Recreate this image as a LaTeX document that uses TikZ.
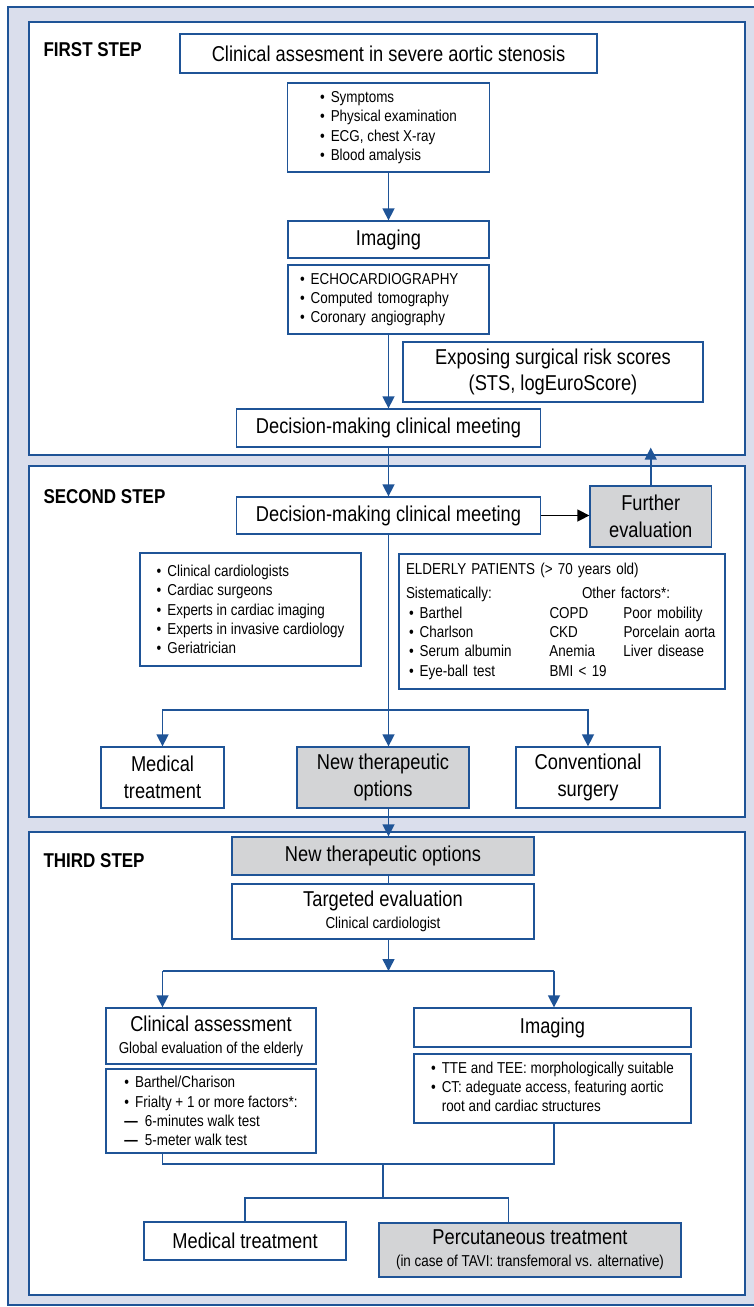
\documentclass[tikz,border=0pt]{standalone}
\usepackage{fontspec}
\setmainfont[FakeStretch=0.85]{Liberation Sans}
\usetikzlibrary{arrows.meta}

\definecolor{frameblue}{HTML}{1F5497}
\definecolor{paneltint}{HTML}{DADEEC}
\definecolor{boxgrey}{HTML}{D3D4D6}

\newcommand{\mainsize}{\fontsize{21.5}{26.5}\selectfont}
\newcommand{\listsize}{\fontsize{15.8}{19.3}\selectfont}
\newcommand{\itm}{\textbullet\hspace{6pt}}
\newcommand{\dsh}{{\bfseries —}\hspace{7pt}}

\begin{document}
\begin{tikzpicture}[x=1pt,y=-1pt,
  box/.style={draw=frameblue,line width=1.3pt,fill=white,inner sep=0pt,
    font=\mainsize,align=center},
  greybox/.style={box,fill=boxgrey},
  lst/.style={box,font=\listsize,align=left},
  heading/.style={anchor=west,font=\fontsize{20}{24}\selectfont\bfseries},
  link/.style={draw=frameblue,line width=1.5pt,
    -{Triangle[width=12pt,length=12pt]}},
  wire/.style={draw=frameblue,line width=1.5pt},
  panel/.style={draw=frameblue,line width=1.6pt,fill=white}]
  \useasboundingbox (0,0) rectangle (754,1307);

  % background and the three step panels
  \draw[frameblue,line width=1.2pt,fill=paneltint] (8,7) rectangle (780,1305);
  \draw[panel] (29,22) rectangle (745,455);
  \draw[panel] (29,466) rectangle (745,817);
  \draw[panel] (29,832) rectangle (745,1295);

  % first step
  \node[heading] (h1) at (40,50) {FIRST STEP};
  \node[box,minimum width=417pt,minimum height=39pt] (clin) at (388.5,53.5)
    {Clinical assesment in severe aortic stenosis};
  \node[lst,minimum width=201.5pt,minimum height=89pt] (sympt) at (388.5,127.5)
    {\itm Symptoms\\ \itm Physical examination\\ \itm ECG, chest X-ray\\
     \itm Blood amalysis};
  \node[box,minimum width=201pt,minimum height=37pt] (imag1) at (388.5,239.5)
    {Imaging};
  \node[lst,minimum width=201pt,minimum height=69pt,text width=177pt,
    inner xsep=12pt] (imlist) at (388.5,299.5)
    {\itm ECHOCARDIOGRAPHY\\ \itm Computed tomography\\ \itm Coronary angiography};
  \node[box,minimum width=300pt,minimum height=60pt] (expo) at (553,372)
    {Exposing surgical risk scores\\(STS, logEuroScore)};
  \node[box,minimum width=304pt,minimum height=38pt] (dec1) at (388.5,428)
    {Decision-making clinical meeting};

  \draw[link] (sympt) -- (imag1);
  \draw[link] (imlist) -- (dec1);

  % second step
  \node[heading] (h2) at (40,497) {SECOND STEP};
  \node[box,minimum width=304pt,minimum height=37pt] (dec2) at (388.5,515.5)
    {Decision-making clinical meeting};
  \node[greybox,minimum width=121.5pt,minimum height=61pt] (further)
    at (650.75,516.5) {Further\\evaluation};
  \node[lst,minimum width=221pt,minimum height=113pt] (team) at (250.5,609.5)
    {\itm Clinical cardiologists\\ \itm Cardiac surgeons\\
     \itm Experts in cardiac imaging\\ \itm Experts in invasive cardiology\\
     \itm Geriatrician};
  \node[lst,minimum width=326pt,minimum height=135pt,text width=312pt,
    inner xsep=7pt] (elderly) at (562,621.5)
    {\begin{tabular}{@{}p{143.5pt}@{}p{74pt}@{}l@{}}
      \multicolumn{3}{@{}l@{}}{ELDERLY PATIENTS (> 70 years old)}\\[5pt]
      Sistematically: & \multicolumn{2}{@{\hspace{32.5pt}}l@{}}{Other factors*:}\\
      \hspace*{3pt}\itm Barthel & COPD & Poor mobility\\
      \hspace*{3pt}\itm Charlson & CKD & Porcelain aorta\\
      \hspace*{3pt}\itm Serum albumin & Anemia & Liver disease\\
      \hspace*{3pt}\itm Eye-ball test & BMI < 19 &
    \end{tabular}};
  \node[box,minimum width=123pt,minimum height=61pt] (med1) at (162.5,777.5)
    {Medical\\treatment};
  \node[greybox,minimum width=172pt,minimum height=61pt] (newopt1)
    at (383,777.5) {New therapeutic\\options};
  \node[box,minimum width=144pt,minimum height=61pt] (conv) at (588,777.5)
    {Conventional\\surgery};

  \coordinate (split2) at (388.5,710);
  \draw[link] (dec1) -- (dec2);
  \draw[black,line width=1.5pt,-{Triangle[width=12pt,length=12pt]}]
    (dec2.east) -- (dec2.east -| further.west);
  \draw[link] (further.north) -- (further.north |- dec1.south);
  \draw[wire] (dec2.south) -- (split2);
  \draw[link] (split2) -| (med1.north);
  \draw[link] (split2) -| (conv.north);
  \draw[link] (split2) -- (split2 |- newopt1.north);

  % third step
  \node[heading] (h3) at (40,861) {THIRD STEP};
  \node[greybox,minimum width=302pt,minimum height=38pt] (newopt2) at (383,856)
    {New therapeutic options};
  \node[box,minimum width=302pt,minimum height=55pt] (target) at (383,911.5)
    {Targeted evaluation\\[-4.5pt]{\listsize Clinical cardiologist}};
  \node[box,minimum width=210pt,minimum height=56pt] (clinass) at (211,1036)
    {Clinical assessment\\[-4.5pt]{\listsize Global evaluation of the elderly}};
  \node[lst,minimum width=210pt,minimum height=84pt] (cllist) at (211,1111)
    {\itm Barthel/Charison\\ \itm Frialty + 1 or more factors*:\\
     \dsh 6-minutes walk test\\ \dsh 5-meter walk test};
  \node[box,minimum width=277pt,minimum height=39pt] (imag3) at (552.5,1027.5)
    {Imaging};
  \node[lst,minimum width=277pt,minimum height=69pt] (imlist3) at (552.5,1088.5)
    {\begin{tabular}{@{}l@{\hspace{6pt}}l@{}}
      \textbullet & TTE and TEE: morphologically suitable\\
      \textbullet & CT: adeguate access, featuring aortic\\
      & root and cardiac structures
    \end{tabular}};
  \node[box,minimum width=202pt,minimum height=38pt] (med2) at (245,1241)
    {Medical treatment};
  \node[greybox,minimum width=302pt,minimum height=54pt] (percu) at (530,1250)
    {Percutaneous treatment\\[-4.5pt]{\listsize (in case of TAVI: transfemoral vs. alternative)}};

  \coordinate (split3) at (388.5,971);
  \coordinate (brL) at (162.5,971);
  \coordinate (brR) at (554,971);
  \coordinate (mergeL) at (162.5,1164);
  \coordinate (mergeR) at (554,1164);
  \coordinate (join) at (383,1164);
  \coordinate (fork) at (383,1198);
  \coordinate (forkL) at (245,1198);
  \coordinate (forkR) at (508.6,1198);

  \draw[link] (split2 |- newopt1.south) -- (split2 |- newopt2.north);
  \draw[wire] (split2 |- newopt2.south) -- (split2 |- target.north);
  \draw[link] (split3 |- target.south) -- (split3);
  \draw[wire] (brL) -- (brR);
  \draw[link] (brL) -- (brL |- clinass.north);
  \draw[link] (brR) -- (brR |- imag3.north);
  \draw[wire] (mergeL |- cllist.south) -- (mergeL) -- (mergeR)
    -- (mergeR |- imlist3.south);
  \draw[wire] (join) -- (fork);
  \draw[wire] (forkL |- med2.north) -- (forkL) -- (forkR) -- (forkR |- percu.north);
\end{tikzpicture}
\end{document}
